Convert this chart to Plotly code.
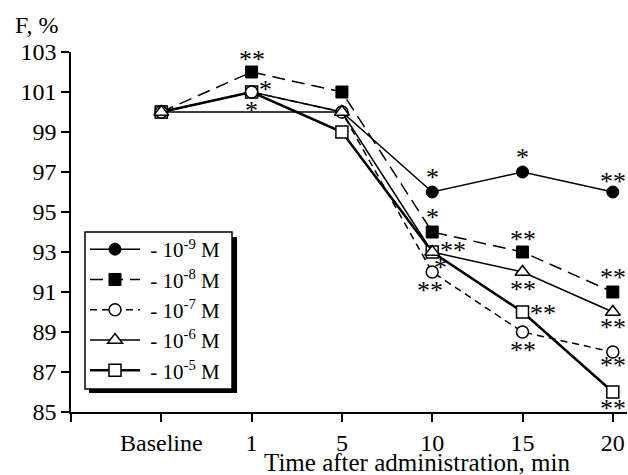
import plotly.graph_objects as go

# ---------------- data ----------------
categories = ["Baseline", "1", "5", "10", "15", "20"]
x_idx = [0, 1, 2, 3, 4, 5]

series_names = ["10<sup>-9</sup> M", "10<sup>-8</sup> M", "10<sup>-7</sup> M",
                "10<sup>-6</sup> M", "10<sup>-5</sup> M"]
v_1e9 = [100, 101, 100, 96, 97, 96]
v_1e8 = [100, 102, 101, 94, 93, 91]
v_1e7 = [100, 101, 100, 92, 89, 88]
v_1e6 = [100, None, 100, 93, 92, 90]
v_1e5 = [100, 101, 99, 93, 90, 86]

y_ticks = [85, 87, 89, 91, 93, 95, 97, 99, 101, 103]

# significance marks: (series key, category index, text)
sig_series = ["1e8", "1e7", "1e7", "1e9", "1e8", "1e6", "1e5", "1e7",
              "1e9", "1e8", "1e6", "1e5", "1e7",
              "1e9", "1e8", "1e6", "1e7", "1e5"]
sig_cat = [1, 1, 1, 3, 3, 3, 3, 3, 4, 4, 4, 4, 4, 5, 5, 5, 5, 5]
sig_text = ["**", "*", "*", "*", "*", "**", "*", "**",
            "*", "**", "**", "**", "**",
            "**", "**", "**", "**", "**"]
# pixel offsets of each mark from its point (dx right, dy down)
sig_dx = [0, 14, 0, 0, 0, 21, 8, -2, 0, 0, 0, 20, 0, 0, 0, 0, 0, 0]
sig_dy = [-16, -6, 15, -18, -18, -5, 12, 15, -18, -16, 14, -2, 15, -14, -18, 12, 10, 13]

values = {"1e9": v_1e9, "1e8": v_1e8, "1e7": v_1e7, "1e6": v_1e6, "1e5": v_1e5}

FONT = "Liberation Serif, Times New Roman, serif"
BLACK = "black"

fig = go.Figure()

style = {
    "1e9": dict(name=series_names[0], line=dict(color=BLACK, width=1.5, dash="solid"),
                marker=dict(symbol="circle", size=12, color=BLACK,
                            line=dict(color=BLACK, width=1)), rank=1),
    "1e8": dict(name=series_names[1], line=dict(color=BLACK, width=1.5, dash="13px,7px"),
                marker=dict(symbol="square", size=12, color=BLACK,
                            line=dict(color=BLACK, width=1)), rank=2),
    "1e7": dict(name=series_names[2], line=dict(color=BLACK, width=1.5, dash="7px,5px"),
                marker=dict(symbol="circle", size=12, color="white",
                            line=dict(color=BLACK, width=1.5)), rank=3),
    "1e6": dict(name=series_names[3], line=dict(color=BLACK, width=1.5, dash="solid"),
                marker=dict(symbol="triangle-up", size=13, color="white",
                            line=dict(color=BLACK, width=1.5)), rank=4),
    "1e5": dict(name=series_names[4], line=dict(color=BLACK, width=2.5, dash="solid"),
                marker=dict(symbol="square", size=12, color="white",
                            line=dict(color=BLACK, width=1.5)), rank=5),
}

for key in ["1e9", "1e8", "1e5", "1e7", "1e6"]:
    s = style[key]
    fig.add_trace(go.Scatter(
        x=x_idx, y=values[key], mode="lines+markers",
        name="&nbsp;- " + s["name"], line=s["line"], marker=s["marker"],
        connectgaps=True, legendrank=s["rank"], cliponaxis=False,
    ))

STAR_DROP = 3
for skey, ci, txt, dx, dy in zip(sig_series, sig_cat, sig_text, sig_dx, sig_dy):
    fig.add_annotation(
        x=x_idx[ci], y=values[skey][ci], xref="x", yref="y",
        text=txt, showarrow=False, xshift=dx, yshift=-dy - STAR_DROP,
        font=dict(family=FONT, size=26, color=BLACK),
        xanchor="center", yanchor="middle",
    )

# axis labels
fig.add_annotation(x=-0.1043, y=1.075, xref="paper", yref="paper", text="F, %",
                   showarrow=False, xanchor="left", yanchor="middle",
                   font=dict(family=FONT, size=24, color=BLACK))
fig.add_annotation(x=0.622, y=-0.1389, xref="paper", yref="paper",
                   text="Time after administration, min",
                   showarrow=False, xanchor="center", yanchor="middle",
                   font=dict(family=FONT, size=25, color=BLACK))

# legend frame with drop shadow
fig.add_shape(type="rect", xref="paper", yref="paper",
              x0=0.0324, x1=0.2986, y0=0.0528, y1=0.486,
              fillcolor=BLACK, line=dict(width=0), layer="above")
fig.add_shape(type="rect", xref="paper", yref="paper",
              x0=0.0252, x1=0.2896, y0=0.064, y1=0.5,
              fillcolor="white", line=dict(color=BLACK, width=1.5), layer="above")

fig.update_layout(
    width=628, height=475,
    margin=dict(l=71, r=1, t=52, b=63),
    paper_bgcolor="white", plot_bgcolor="white",
    font=dict(family=FONT, size=24, color=BLACK),
    showlegend=True,
    legend=dict(x=0.0252, y=0.5083, xanchor="left", yanchor="top",
                bgcolor="rgba(0,0,0,0)", borderwidth=0,
                font=dict(family=FONT, size=21, color=BLACK),
                itemwidth=50, tracegroupgap=0),
    xaxis=dict(range=[-1, 5.157], tickmode="array", tickvals=[-1] + x_idx,
               ticktext=[""] + categories, ticks="outside", ticklen=8,
               tickwidth=1.5, tickcolor=BLACK, showline=True, linecolor=BLACK,
               linewidth=1.5, showgrid=False, zeroline=False,
               tickfont=dict(family=FONT, size=24, color=BLACK)),
    yaxis=dict(range=[85, 103], tickmode="array", tickvals=y_ticks,
               ticks="outside", ticklen=8, tickwidth=1.5, tickcolor=BLACK,
               showline=True, linecolor=BLACK, linewidth=1.5, showgrid=False,
               zeroline=False, tickfont=dict(family=FONT, size=24, color=BLACK)),
)

fig.write_html(
    "out.html",
    config={"displayModeBar": False},
    post_script="document.body.style.margin='0';document.body.style.overflow='hidden';",
)
